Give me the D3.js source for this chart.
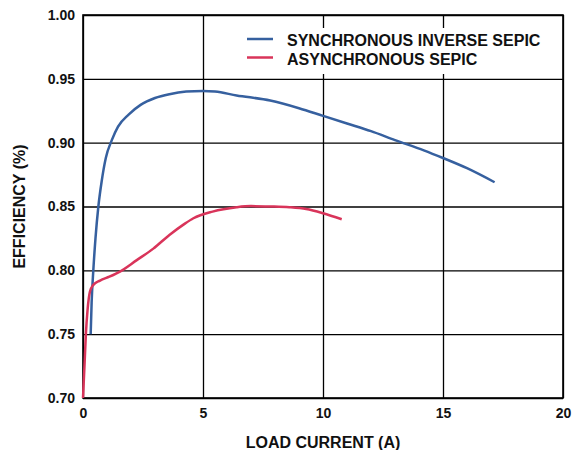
<!DOCTYPE html>
<html>
<head>
<meta charset="utf-8">
<script src="https://cdn.jsdelivr.net/npm/d3@7"></script>
<style>
  body { margin: 0; background: #fff; }
  svg text { font-family: "Liberation Sans", Arial, sans-serif; font-weight: bold; fill: #111; }
</style>
</head>
<body>
<script>
// Efficiency vs load current

// ---- data ----
const syncCurrent = [0.32, 0.36, 0.43, 0.52, 0.64, 0.78, 0.95, 1.2, 1.46, 1.9, 2.4, 3.0, 3.6, 4.3, 5.0, 5.5, 6.4, 7.8, 9.0, 10.0, 11.0, 12.0, 13.0, 14.2, 15.0, 16.0, 17.15];
const syncEff = [0.750, 0.775, 0.800, 0.825, 0.850, 0.870, 0.888, 0.902, 0.9126, 0.922, 0.9296, 0.935, 0.938, 0.940, 0.9405, 0.940, 0.937, 0.933, 0.927, 0.921, 0.915, 0.909, 0.902, 0.894, 0.888, 0.880, 0.869];

const asyncCurrent = [0, 0.06, 0.12, 0.19, 0.29, 0.43, 0.71, 1.1, 1.54, 2.24, 2.93, 3.6, 4.2, 4.6, 5.4, 6.4, 7.0, 7.8, 8.6, 9.3, 10.0, 10.78];
const asyncEff = [0.700, 0.7245, 0.750, 0.769, 0.7833, 0.7886, 0.792, 0.795, 0.799, 0.808, 0.817, 0.8277, 0.836, 0.8408, 0.846, 0.8494, 0.8503, 0.850, 0.8494, 0.848, 0.8447, 0.840];

const xTicks = [0, 5, 10, 15, 20];
const yTicks = [0.70, 0.75, 0.80, 0.85, 0.90, 0.95, 1.00];

const seriesNames = ["SYNCHRONOUS INVERSE SEPIC", "ASYNCHRONOUS SEPIC"];

// ---- chart ----
const margin = { top: 15, right: 9, bottom: 52, left: 83 };
const width = 572 - margin.left - margin.right;
const height = 450 - margin.top - margin.bottom;

const colors = ["#36609f", "#d9345a"];

const svg = d3.select("body")
  .append("svg")
  .attr("width", 572)
  .attr("height", 450);

const g = svg.append("g")
  .attr("transform", `translate(${margin.left},${margin.top})`);

const x = d3.scaleLinear().domain([0, 20]).range([0, width]);
const y = d3.scaleLinear().domain([0.70, 1.00]).range([height, 0]);

// grid + labels
const xAxis = g.append("g")
  .attr("transform", `translate(0,${height})`)
  .call(d3.axisBottom(x).tickValues(xTicks).tickSizeInner(-height).tickSizeOuter(0).tickPadding(10));

const yAxis = g.append("g")
  .call(d3.axisLeft(y).tickValues(yTicks).tickFormat(d3.format(".2f")).tickSizeInner(-width).tickSizeOuter(0).tickPadding(8));

[xAxis, yAxis].forEach(a => {
  a.select(".domain").remove();
  a.selectAll(".tick line").attr("stroke", "#000").attr("stroke-width", 1.3);
  a.selectAll(".tick text").attr("font-size", "14px").attr("fill", "#111");
});

// legend (white box hides grid)
const legend = g.append("g").attr("transform", `translate(${width - 330}, 13)`);
legend.append("rect")
  .attr("width", 320).attr("height", 46)
  .attr("fill", "#fff");

seriesNames.forEach((name, i) => {
  const ly = 11 + i * 18.5;
  legend.append("line")
    .attr("x1", 14).attr("x2", 40)
    .attr("y1", ly).attr("y2", ly)
    .attr("stroke", colors[i]).attr("stroke-width", 2.5);
  legend.append("text")
    .attr("x", 54).attr("y", ly + 7)
    .attr("font-size", "16px")
    .text(name);
});

// frame
g.append("rect")
  .attr("width", width).attr("height", height)
  .attr("fill", "none").attr("stroke", "#000").attr("stroke-width", 1.6);

// lines
const line = d3.line()
  .x(d => x(d[0]))
  .y(d => y(d[1]))
  .curve(d3.curveMonotoneX);

const syncData = d3.zip(syncCurrent, syncEff);
const asyncData = d3.zip(asyncCurrent, asyncEff);

g.append("path")
  .datum(syncData)
  .attr("d", line)
  .attr("fill", "none").attr("stroke", colors[0]).attr("stroke-width", 2.5);

g.append("path")
  .datum(asyncData)
  .attr("d", line)
  .attr("fill", "none").attr("stroke", colors[1]).attr("stroke-width", 2.5);

// axis titles
svg.append("text")
  .attr("x", margin.left + width / 2)
  .attr("y", 448)
  .attr("text-anchor", "middle")
  .attr("font-size", "16px")
  .text("LOAD CURRENT (A)");

svg.append("text")
  .attr("transform", `translate(25,${margin.top + height / 2}) rotate(-90)`)
  .attr("text-anchor", "middle")
  .attr("font-size", "16px")
  .text("EFFICIENCY (%)");
</script>
</body>
</html>
